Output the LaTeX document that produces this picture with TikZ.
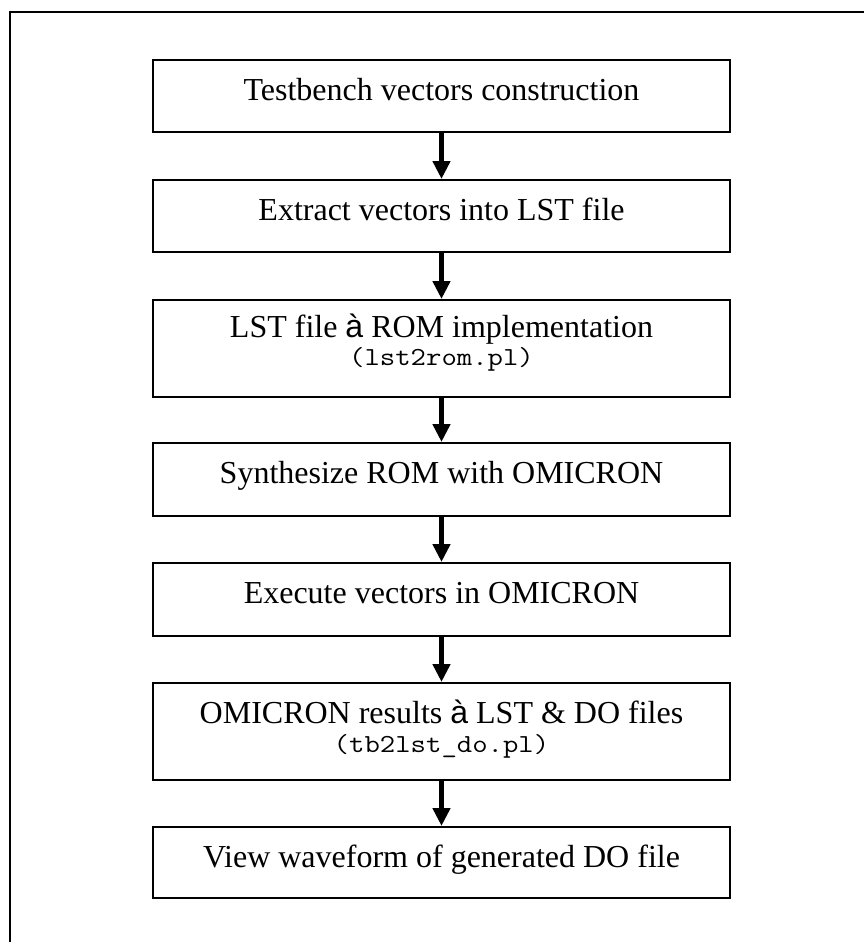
\documentclass[tikz,border=0pt]{standalone}
\usepackage{fontspec}
\usepackage{graphicx}
\setmainfont{Liberation Serif}
\newfontfamily\arrowfont{Liberation Sans}
\usetikzlibrary{arrows.meta}
\newcommand{\widecode}[1]{\scalebox{1.15}[1]{\ttfamily #1}}
\begin{document}
\begin{tikzpicture}[x=1pt,y=-1pt,
  flowbox/.style={draw, line width=2pt, minimum width=577pt, inner sep=0pt},
  lbl/.style={anchor=base, inner sep=0pt, font=\fontsize{32}{38}\selectfont},
  code/.style={anchor=base, inner sep=0pt, font=\fontsize{26}{30}\selectfont},
  flowarrow/.style={line width=5pt, -{Triangle[width=17pt,length=18pt]}},
  frameline/.style={line width=2pt}]
\useasboundingbox (0,0) rectangle (863,942);
\draw[frameline] (870,12) -- (10,12) -- (10,950);

\node[flowbox, minimum height=72pt] (b1) at (441.5,96) {};
\node[flowbox, minimum height=72pt] (b2) at (441.5,216) {};
\node[flowbox, minimum height=97pt] (b3) at (441.5,348.5) {};
\node[flowbox, minimum height=73pt] (b4) at (441.5,479.5) {};
\node[flowbox, minimum height=73pt] (b5) at (441.5,599.5) {};
\node[flowbox, minimum height=97pt] (b6) at (441.5,731.5) {};
\node[flowbox, minimum height=71pt] (b7) at (441.5,862.5) {};

\node[lbl] (t1) at (441.5,100) {Testbench vectors construction};
\node[lbl] (t2) at (441.5,220) {Extract vectors into LST file};
\node[lbl] (t3) at (441.5,337) {LST file {\arrowfont à} ROM implementation};
\node[code] (c3) at (441.5,365) {\widecode{(lst2rom.pl)}};
\node[lbl] (t4) at (441.5,483) {Synthesize ROM with OMICRON};
\node[lbl] (t5) at (441.5,603) {Execute vectors in OMICRON};
\node[lbl] (t6) at (441.5,723) {OMICRON results {\arrowfont à} LST \& DO files};
\node[code] (c6) at (441.5,752) {\widecode{(tb2lst\_do.pl)}};
\node[lbl] (t7) at (441.5,867) {View waveform of generated DO file};

\draw[flowarrow] (b1.south) -- (b2.north);
\draw[flowarrow] (b2.south) -- (b3.north);
\draw[flowarrow] (b3.south) -- (b4.north);
\draw[flowarrow] (b4.south) -- (b5.north);
\draw[flowarrow] (b5.south) -- (b6.north);
\draw[flowarrow] (b6.south) -- (b7.north);
\end{tikzpicture}
\end{document}
